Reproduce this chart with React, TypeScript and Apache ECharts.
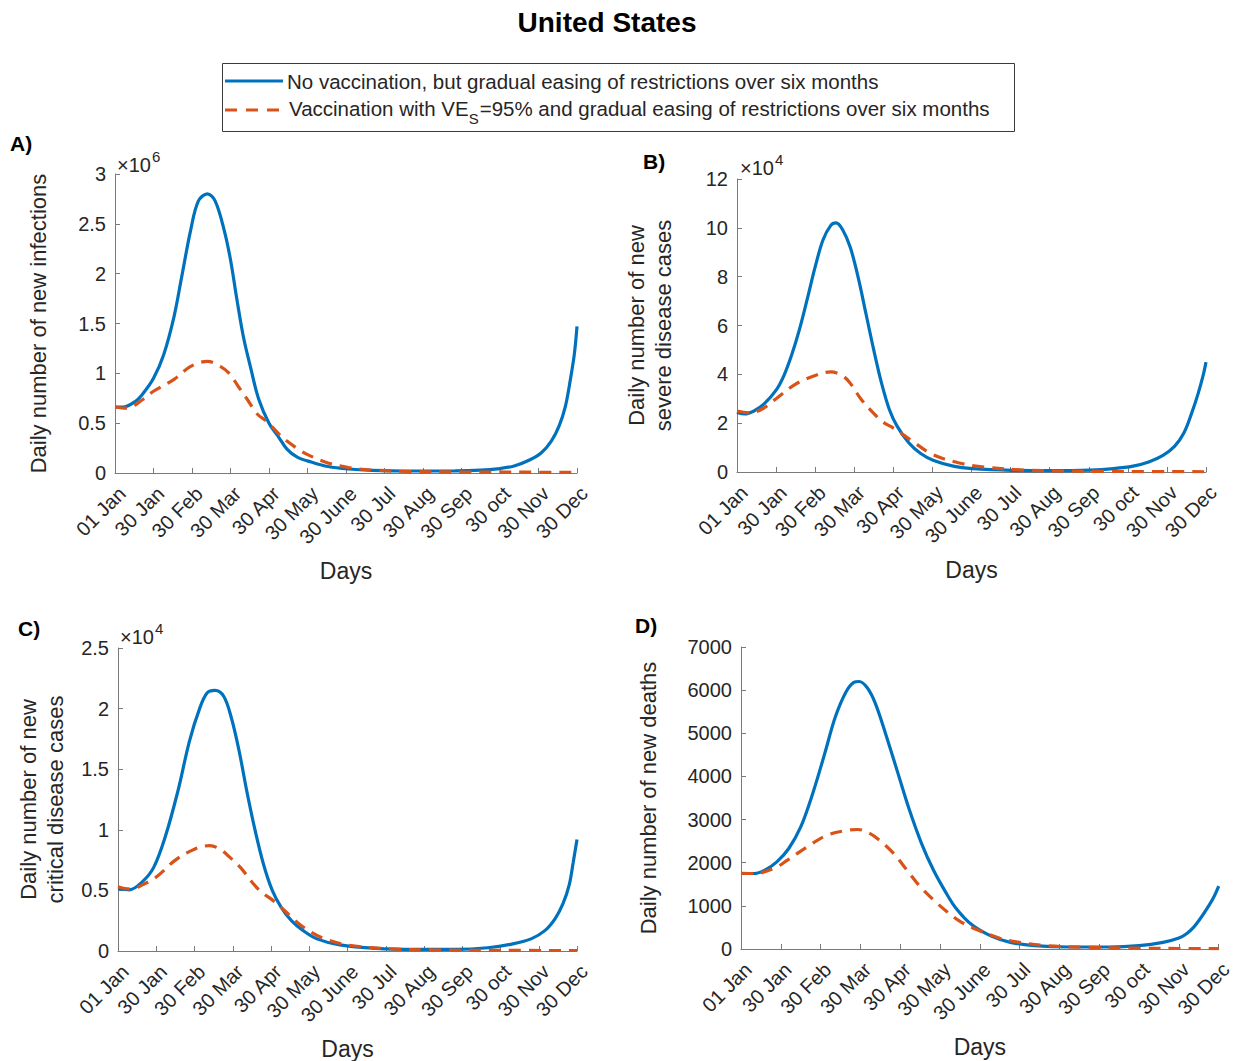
import React, { useEffect, useRef } from "react";
import * as echarts from "echarts";

// X tick labels (days 0..360 every 30)
const xTickLabels = ["01 Jan", "30 Jan", "30 Feb", "30 Mar", "30 Apr", "30 May", "30 June", "30 Jul", "30 Aug", "30 Sep", "30 oct", "30 Nov", "30 Dec"];

// Panel A: daily new infections (x10^6)
const aBlueDays = [0, 6, 16, 22, 30, 38, 46, 52, 59, 65, 72, 78, 85, 90, 95, 100, 106, 112, 120, 127, 134, 142, 153, 166, 182, 200, 230, 265, 285, 298, 311, 323, 332, 340, 346, 351, 355, 358, 360];
const aBlueVals = [0.662, 0.66, 0.72, 0.8, 0.95, 1.19, 1.57, 1.97, 2.44, 2.73, 2.8, 2.73, 2.44, 2.14, 1.74, 1.37, 1.04, 0.74, 0.5, 0.37, 0.24, 0.16, 0.11, 0.065, 0.04, 0.027, 0.02, 0.021, 0.028, 0.042, 0.07, 0.13, 0.2, 0.32, 0.47, 0.67, 0.95, 1.2, 1.47];
const aOrangeDays = [0, 9, 22, 30, 46, 59, 72, 82, 89, 96, 103, 111, 119, 127, 134, 145, 153, 166, 182, 200, 230, 270, 320, 360];
const aOrangeVals = [0.662, 0.65, 0.74, 0.82, 0.94, 1.07, 1.12, 1.07, 1.0, 0.87, 0.74, 0.59, 0.51, 0.4, 0.32, 0.22, 0.167, 0.1, 0.055, 0.03, 0.015, 0.01, 0.008, 0.006];

// Panel B: daily new severe disease cases (x10^4)
const bBlueDays = [0, 6, 13, 21, 30, 36, 42, 48, 54, 60, 66, 72, 76, 81, 87, 93, 99, 105, 111, 117, 123, 132, 141, 151, 166, 181, 211, 241, 271, 289, 304, 316, 327, 336, 343, 349, 354, 358, 360];
const bBlueVals = [2.44, 2.38, 2.5, 2.8, 3.35, 3.95, 4.8, 5.85, 7.1, 8.4, 9.5, 10.1, 10.2, 9.93, 9.19, 7.97, 6.48, 4.99, 3.63, 2.55, 1.87, 1.19, 0.76, 0.47, 0.24, 0.14, 0.07, 0.055, 0.08, 0.14, 0.24, 0.41, 0.68, 1.06, 1.6, 2.41, 3.22, 4.0, 4.5];
const bOrangeDays = [0, 10, 20, 30, 45, 60, 72, 80, 86, 95, 104, 112, 120, 127, 135, 150, 170, 190, 220, 250, 300, 360];
const bOrangeVals = [2.5, 2.42, 2.6, 3.0, 3.6, 3.95, 4.1, 3.97, 3.7, 3.0, 2.45, 2.05, 1.8, 1.55, 1.25, 0.72, 0.38, 0.2, 0.08, 0.04, 0.02, 0.01];

// Panel C: daily new critical disease cases (x10^4)
const cBlueDays = [0, 9, 19, 28, 37, 47, 56, 64, 70, 76, 83, 89, 95, 101, 107, 114, 121, 128, 136, 145, 156, 174, 202, 234, 265, 290, 308, 324, 335, 343, 349, 354, 357, 360];
const cBlueVals = [0.514, 0.505, 0.57, 0.69, 0.94, 1.32, 1.73, 2.0, 2.13, 2.15, 2.1, 1.92, 1.65, 1.32, 1.02, 0.72, 0.5, 0.36, 0.25, 0.17, 0.1, 0.05, 0.022, 0.014, 0.014, 0.027, 0.055, 0.1, 0.17, 0.27, 0.39, 0.55, 0.73, 0.92];
const cOrangeDays = [0, 10, 20, 30, 45, 60, 72, 80, 88, 96, 105, 112, 120, 128, 136, 145, 160, 180, 210, 250, 300, 360];
const cOrangeVals = [0.53, 0.51, 0.55, 0.61, 0.75, 0.84, 0.87, 0.84, 0.77, 0.69, 0.57, 0.49, 0.43, 0.36, 0.28, 0.2, 0.11, 0.05, 0.02, 0.008, 0.005, 0.004];

// Panel D: daily new deaths
const dBlueDays = [0, 10, 18, 27, 36, 45, 54, 63, 71, 79, 85, 89, 95, 101, 109, 118, 127, 136, 145, 154, 162, 174, 189, 203, 221, 247, 277, 300, 318, 330, 336, 341, 346, 351, 356, 360];
const dBlueVals = [1754, 1750, 1830, 2020, 2330, 2830, 3600, 4520, 5370, 5950, 6180, 6200, 6060, 5710, 4985, 4100, 3215, 2450, 1830, 1330, 946, 560, 292, 154, 77, 46, 46, 77, 154, 254, 360, 500, 700, 930, 1190, 1460];
const dOrangeDays = [0, 10, 25, 35, 50, 65, 80, 88, 97, 106, 115, 125, 135, 145, 155, 165, 178, 195, 210, 230, 260, 300, 330, 360];
const dOrangeVals = [1750, 1750, 1870, 2060, 2370, 2640, 2750, 2770, 2680, 2480, 2215, 1830, 1446, 1140, 870, 640, 446, 250, 154, 77, 40, 20, 12, 10];

const legendTexts = [
  "No vaccination, but gradual easing of restrictions over six months",
  "Vaccination with VE",
  "S",
  "=95% and gradual easing of restrictions over six months",
];

const BLUE = "#0072BD";
const ORANGE = "#D95319";
const TEXT = "#262626";
const AXIS = "#7a7a7a";
const FONT = '"Liberation Sans", Arial, Helvetica, sans-serif';

const zip = (xs: number[], ys: number[]) => xs.map((x, i) => [x, ys[i]]);

export default function App() {
  const ref = useRef<HTMLDivElement>(null);
  useEffect(() => {
    if (!ref.current) return;
    const chart = echarts.init(ref.current, undefined, { renderer: "svg" });

    const grids = [
      { left: 115, top: 174, width: 462, height: 299 },
      { left: 737, top: 179, width: 469, height: 293 },
      { left: 118, top: 648, width: 459, height: 304 },
      { left: 741, top: 647, width: 480, height: 302 },
    ];
    const yCfg = [
      { max: 3, interval: 0.5, name: "Daily number of new infections", gap: 63 },
      { max: 12, interval: 2, name: "Daily number of new\nsevere disease cases", gap: 60 },
      { max: 2.5, interval: 0.5, name: "Daily number of new\ncritical disease cases", gap: 49 },
      { max: 7000, interval: 1000, name: "Daily number of new deaths", gap: 79 },
    ];
    const seriesData = [
      [zip(aBlueDays, aBlueVals), zip(aOrangeDays, aOrangeVals)],
      [zip(bBlueDays, bBlueVals), zip(bOrangeDays, bOrangeVals)],
      [zip(cBlueDays, cBlueVals), zip(cOrangeDays, cOrangeVals)],
      [zip(dBlueDays, dBlueVals), zip(dOrangeDays, dOrangeVals)],
    ];

    const xAxis = grids.map((_, i) => ({
      type: "value",
      gridIndex: i,
      min: 0,
      max: 360,
      interval: 30,
      name: "Days",
      nameLocation: "middle",
      nameGap: 86,
      nameTextStyle: { color: TEXT, fontSize: 23, fontFamily: FONT },
      axisLine: { show: true, lineStyle: { color: AXIS, width: 1 } },
      axisTick: { show: true, inside: true, length: 5, lineStyle: { color: AXIS } },
      splitLine: { show: false },
      axisLabel: {
        rotate: 45,
        margin: 10,
        verticalAlign: "top",
        fontSize: 20,
        color: TEXT,
        fontFamily: FONT,
        formatter: (v: number) => xTickLabels[Math.round(v / 30)] ?? "",
      },
    }));

    const yAxis = yCfg.map((c, i) => ({
      type: "value",
      gridIndex: i,
      min: 0,
      max: c.max,
      interval: c.interval,
      name: c.name,
      nameLocation: "middle",
      nameGap: c.gap,
      nameTextStyle: { color: TEXT, fontSize: 22, fontFamily: FONT, lineHeight: 27 },
      axisLine: { show: true, lineStyle: { color: AXIS, width: 1 } },
      axisTick: { show: true, inside: true, length: 5, lineStyle: { color: AXIS } },
      splitLine: { show: false },
      axisLabel: {
        margin: 9,
        fontSize: 20,
        color: TEXT,
        fontFamily: FONT,
        formatter: (v: number) => String(Math.round(v * 1000) / 1000),
      },
    }));

    const series: any[] = [];
    seriesData.forEach((pair, i) => {
      series.push({
        type: "line",
        xAxisIndex: i,
        yAxisIndex: i,
        data: pair[0],
        showSymbol: false,
        smooth: 0.35,
        lineStyle: { color: BLUE, width: 3.2 },
      });
      series.push({
        type: "line",
        xAxisIndex: i,
        yAxisIndex: i,
        data: pair[1],
        showSymbol: false,
        smooth: 0.35,
        lineStyle: { color: ORANGE, width: 3.2, type: [12, 8] },
      });
    });

    // measure for subscript placement
    const cv = document.createElement("canvas").getContext("2d")!;
    cv.font = '20.5px "Liberation Sans", Arial, sans-serif';
    const w1 = cv.measureText(legendTexts[1]).width;
    cv.font = '15px "Liberation Sans", Arial, sans-serif';
    const wS = cv.measureText(legendTexts[2]).width;
    cv.font = '20px "Liberation Sans", Arial, sans-serif';
    const wX = cv.measureText("×10").width;

    const expo = (x: number, y: number, exp: string) => [
      { type: "text", x, y, style: { text: "×10", fontSize: 20, fill: TEXT, fontFamily: FONT, verticalAlign: "middle" } },
      { type: "text", x: x + wX + 1, y: y - 9, style: { text: exp, fontSize: 15, fill: TEXT, fontFamily: FONT, verticalAlign: "middle" } },
    ];
    const panelLbl = (x: number, y: number, t: string) => ({
      type: "text",
      x,
      y,
      style: { text: t, fontSize: 21, fontWeight: "bold", fill: "#000", fontFamily: FONT, verticalAlign: "middle" },
    });

    const legX = 287;
    const graphic: any[] = [
      {
        type: "text",
        x: 607,
        y: 22,
        style: { text: "United States", fontSize: 28, fontWeight: "bold", fill: "#000", fontFamily: FONT, align: "center", verticalAlign: "middle" },
      },
      panelLbl(10, 143, "A)"),
      panelLbl(643, 161, "B)"),
      panelLbl(18, 628, "C)"),
      panelLbl(635, 625, "D)"),
      ...expo(117, 165, "6"),
      ...expo(740, 168, "4"),
      ...expo(120, 637, "4"),
      {
        type: "rect",
        shape: { x: 222.5, y: 63.5, width: 792, height: 68 },
        style: { fill: "#fff", stroke: "#3a3a3a", lineWidth: 1 },
      },
      {
        type: "line",
        shape: { x1: 225, y1: 81, x2: 283, y2: 81 },
        style: { stroke: BLUE, lineWidth: 3 },
      },
      {
        type: "line",
        shape: { x1: 225, y1: 110, x2: 283, y2: 110 },
        style: { stroke: ORANGE, lineWidth: 3, lineDash: [12, 9] },
      },
      {
        type: "text",
        x: legX,
        y: 81,
        style: { text: legendTexts[0], fontSize: 20.5, fill: TEXT, fontFamily: FONT, verticalAlign: "middle" },
      },
      {
        type: "text",
        x: legX + 2,
        y: 108,
        style: { text: legendTexts[1], fontSize: 20.5, fill: TEXT, fontFamily: FONT, verticalAlign: "middle" },
      },
      {
        type: "text",
        x: legX + 2 + w1,
        y: 118,
        style: { text: legendTexts[2], fontSize: 15, fill: TEXT, fontFamily: FONT, verticalAlign: "middle" },
      },
      {
        type: "text",
        x: legX + 2 + w1 + wS + 1,
        y: 108,
        style: { text: legendTexts[3], fontSize: 20.5, fill: TEXT, fontFamily: FONT, verticalAlign: "middle" },
      },
    ];

    chart.setOption({
      animation: false,
      backgroundColor: "#fff",
      textStyle: { fontFamily: FONT },
      grid: grids.map((g) => ({ ...g, containLabel: false })),
      xAxis,
      yAxis,
      series,
      graphic,
    } as any);

    return () => chart.dispose();
  }, []);

  return (
    <div
      ref={ref}
      style={{ position: "fixed", left: 0, top: 0, width: 1235, height: 1061, background: "#fff" }}
    />
  );
}
